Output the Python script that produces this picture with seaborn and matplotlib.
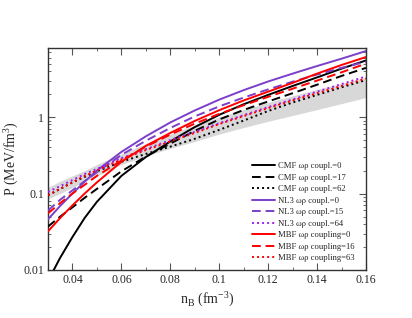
import numpy as np
import pandas as pd
import matplotlib
matplotlib.use('Agg')
import matplotlib.pyplot as plt
import seaborn as sns
from matplotlib.ticker import MultipleLocator, LogLocator, NullFormatter, FixedLocator, FixedFormatter

# baryon density grid (fm^-3)
n_b = [0.03, 0.035, 0.04, 0.045, 0.05, 0.06, 0.07, 0.08, 0.09, 0.10, 0.11, 0.12, 0.13, 0.14, 0.15, 0.16]

# pressure (MeV/fm^3)
cmf_0 = [0.0072, 0.0145, 0.027, 0.048, 0.078, 0.17, 0.30, 0.48, 0.74, 1.07, 1.47, 1.95, 2.55, 3.3, 4.3, 5.5]
cmf_17 = [0.037, 0.05, 0.066, 0.088, 0.115, 0.195, 0.305, 0.45, 0.66, 0.93, 1.24, 1.6, 2.05, 2.65, 3.45, 4.4]
cmf_62 = [0.095, 0.115, 0.14, 0.165, 0.195, 0.26, 0.33, 0.41, 0.52, 0.68, 0.9, 1.2, 1.55, 1.95, 2.45, 3.05]
nl3_0 = [0.046, 0.069, 0.10, 0.143, 0.20, 0.35, 0.56, 0.85, 1.22, 1.69, 2.25, 2.92, 3.7, 4.65, 5.8, 7.3]
nl3_15 = [0.06, 0.083, 0.11, 0.145, 0.19, 0.32, 0.49, 0.72, 1.02, 1.38, 1.8, 2.3, 2.9, 3.6, 4.4, 5.3]
nl3_64 = [0.105, 0.125, 0.15, 0.18, 0.21, 0.29, 0.38, 0.50, 0.64, 0.83, 1.06, 1.35, 1.7, 2.15, 2.7, 3.4]
mbf_0 = [0.032, 0.048, 0.07, 0.10, 0.14, 0.26, 0.42, 0.62, 0.89, 1.23, 1.65, 2.15, 2.8, 3.7, 4.8, 6.1]
mbf_16 = [0.055, 0.075, 0.10, 0.13, 0.17, 0.27, 0.41, 0.59, 0.82, 1.1, 1.43, 1.84, 2.35, 3.0, 3.85, 5.0]
mbf_63 = [0.095, 0.115, 0.14, 0.17, 0.20, 0.28, 0.37, 0.48, 0.62, 0.81, 1.03, 1.31, 1.65, 2.05, 2.55, 3.2]

# grey constraint band
band_lo = [0.085, 0.10, 0.12, 0.145, 0.17, 0.24, 0.31, 0.39, 0.48, 0.60, 0.73, 0.88, 1.05, 1.25, 1.5, 1.8]
band_hi = [0.12, 0.145, 0.17, 0.20, 0.24, 0.33, 0.45, 0.60, 0.78, 1.0, 1.25, 1.55, 1.9, 2.3, 2.75, 3.3]

labels = ['CMF ωρ coupl.=0', 'CMF ωρ coupl.=17', 'CMF ωρ coupl.=62',
          'NL3 ωρ coupl.=0', 'NL3 ωρ coupl.=15', 'NL3 ωρ coupl.=64',
          'MBF ωρ coupling=0', 'MBF ωρ coupling=16', 'MBF ωρ coupling=63']
series = [cmf_0, cmf_17, cmf_62, nl3_0, nl3_15, nl3_64, mbf_0, mbf_16, mbf_63]
colors = ['black', 'black', 'black', '#7b3fc9', '#7b3fc9', '#a020f0', '#ff0000', '#ff0000', '#ff0000']
styles = ['-', (0, (4.5, 2.5)), (0, (1, 1.6))] * 3

sns.set_style('ticks')
plt.rcParams['font.family'] = ['Liberation Serif', 'DejaVu Serif']
plt.rcParams['mathtext.fontset'] = 'custom'
plt.rcParams['mathtext.rm'] = 'Liberation Serif'

fig = plt.figure(figsize=(4.12, 3.18), dpi=100)
ax = fig.add_axes([0.1165, 0.151, 0.7718, 0.698])

ax.fill_between(n_b, band_lo, band_hi, color='#d8d8d8', lw=0, zorder=1)

for lab, vals, c, ls in zip(labels, series, colors, styles):
    df = pd.DataFrame({'n': n_b, 'P': vals})
    sns.lineplot(data=df, x='n', y='P', ax=ax, color=c, lw=1.4, label=lab, zorder=3)
    ax.lines[-1].set_linestyle(ls)

ax.set_yscale('log')
ax.set_xlim(0.03, 0.16)
ax.set_ylim(0.01, 8.0)

ax.xaxis.set_major_locator(FixedLocator([0.04, 0.06, 0.08, 0.10, 0.12, 0.14, 0.16]))
ax.xaxis.set_major_formatter(FixedFormatter(['0.04', '0.06', '0.08', '0.1', '0.12', '0.14', '0.16']))
ax.xaxis.set_minor_locator(MultipleLocator(0.01))
ax.yaxis.set_major_locator(FixedLocator([0.01, 0.1, 1]))
ax.yaxis.set_major_formatter(FixedFormatter(['0.01', '0.1', '1']))
ax.yaxis.set_minor_locator(LogLocator(base=10, subs=np.arange(2, 10)))
ax.yaxis.set_minor_formatter(NullFormatter())

ax.tick_params(which='both', direction='in', top=True, right=True, labelsize=8.5, pad=3)
ax.tick_params(which='major', length=5, width=0.8, color='#555555')
ax.tick_params(which='minor', length=2.5, width=0.6, color='#555555')
for sp in ax.spines.values():
    sp.set_linewidth(1.0)
    sp.set_color('#333333')

ax.set_xlabel('n$_\\mathrm{B}$ (fm$^{-3}$)', fontsize=10, labelpad=2)
ax.set_ylabel('P (MeV/fm$^3$)', fontsize=10, labelpad=2)

leg = ax.legend(loc='lower right', bbox_to_anchor=(0.975, 0.02), frameon=False,
                fontsize=6.2, handlelength=2.7, labelspacing=0.4,
                borderaxespad=0.0, handletextpad=0.3)

fig.savefig('out.png', dpi=100)
